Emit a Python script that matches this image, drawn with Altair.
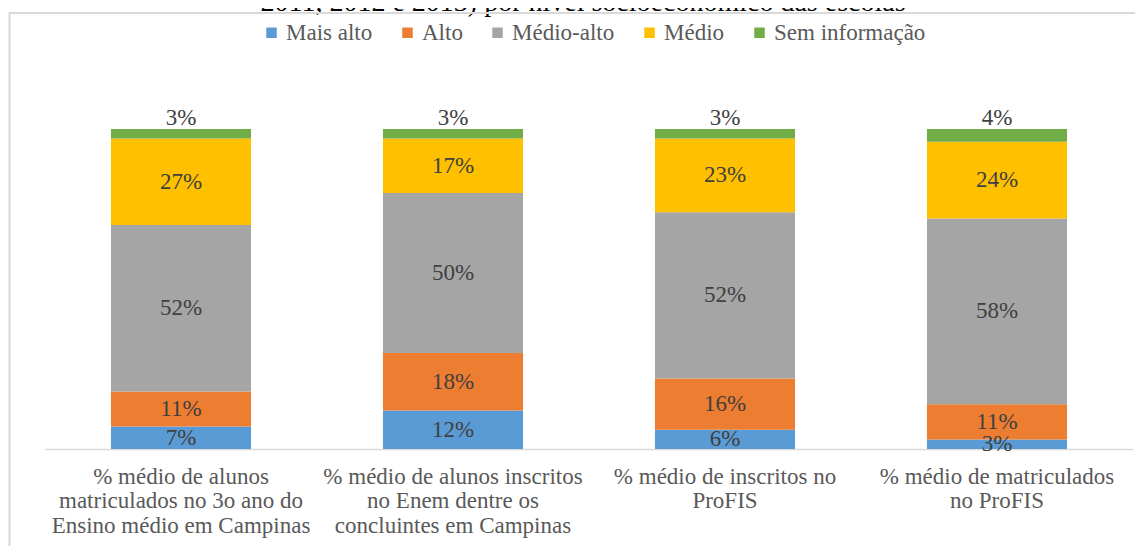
import altair as alt
import pandas as pd

# ---- data ----
categories = [
    "% médio de alunos|matriculados no 3o ano do|Ensino médio em Campinas",
    "% médio de alunos inscritos|no Enem dentre os|concluintes em Campinas",
    "% médio de inscritos no|ProFIS",
    "% médio de matriculados|no ProFIS",
]
levels = ["Mais alto", "Alto", "Médio-alto", "Médio", "Sem informação"]
colors = ["#5B9BD5", "#ED7D31", "#A5A5A5", "#FFC000", "#70AD47"]

mais_alto = [7, 12, 6, 3]
alto = [11, 18, 16, 11]
medio_alto = [52, 50, 52, 58]
medio = [27, 17, 23, 24]
sem_info = [3, 3, 3, 4]

title_text = "2011, 2012 e 2013) por nível socioeconômico das escolas"

series = [mais_alto, alto, medio_alto, medio, sem_info]
rows = []
for li, (lvl, vals) in enumerate(zip(levels, series)):
    for ci, cat in enumerate(categories):
        rows.append({"cat": cat, "level": lvl, "idx": li, "value": vals[ci]})
df = pd.DataFrame(rows)

FONT = "Times New Roman, Liberation Serif, DejaVu Serif, serif"

x_enc = alt.X(
    "cat:N",
    sort=categories,
    scale=alt.Scale(paddingInner=0.485, paddingOuter=0.2425),
    axis=alt.Axis(
        title=None,
        labelExpr="split(datum.label, '|')",
        labelAngle=0,
        domainColor="#D9D9D9",
        domainWidth=1.5,
        ticks=False,
        grid=False,
        labelFont=FONT,
        labelFontSize=23,
        labelColor="#595959",
        labelPadding=16,
        labelLineHeight=24.5,
        labelBaseline="top",
        labelLimit=400,
    ),
)

bars = alt.Chart(df).mark_bar().encode(
    x=x_enc,
    y=alt.Y("value:Q", stack="zero", scale=alt.Scale(domain=[0, 100]), axis=None),
    color=alt.Color(
        "level:N",
        sort=levels,
        scale=alt.Scale(domain=levels, range=colors),
        legend=alt.Legend(
            title=None,
            orient="none",
            legendX=215,
            legendY=-108,
            direction="horizontal",
            symbolType="square",
            symbolSize=110,
            symbolStrokeWidth=0,
            labelFont=FONT,
            labelFontSize=23,
            labelColor="#595959",
            labelOffset=3,
            columnPadding=23,
            labelLimit=300,
        ),
    ),
    order=alt.Order("idx:Q"),
)

stacked = (
    alt.Chart(df)
    .transform_stack(
        stack="value", groupby=["cat"], sort=[alt.SortField("idx")], as_=["y0", "y1"]
    )
    .transform_calculate(mid="(datum.y0 + datum.y1) / 2", lab="datum.value + '%'")
)

mid_labels = stacked.transform_filter(alt.datum.level != "Sem informação").mark_text(
    font=FONT, fontSize=23, color="#404040", baseline="middle"
).encode(x=alt.X("cat:N", sort=categories), y=alt.Y("mid:Q"), text="lab:N")

top_labels = stacked.transform_filter(alt.datum.level == "Sem informação").mark_text(
    font=FONT, fontSize=23, color="#404040", baseline="alphabetic", dy=-4
).encode(x=alt.X("cat:N", sort=categories), y=alt.Y("y1:Q"), text="lab:N")

frame_df = pd.DataFrame({"k": [0]})
border_top = alt.Chart(frame_df).mark_rule(color="#D9D9D9", strokeWidth=2).encode(
    x=alt.value(-36), x2=alt.value(1092), y=alt.value(-116)
)
border_left = alt.Chart(frame_df).mark_rule(color="#D9D9D9", strokeWidth=2).encode(
    x=alt.value(-35.5), y=alt.value(-117), y2=alt.value(420)
)
# chart title, cut off at the top edge as in the reference
title_mark = alt.Chart(frame_df).mark_text(
    text=title_text,
    font=FONT,
    fontSize=28,
    color="black",
    align="center",
    baseline="alphabetic",
).encode(x=alt.value(538), y=alt.value(-118.5))

chart = (
    alt.layer(bars, mid_labels, top_labels, title_mark, border_top, border_left)
    .properties(
        width=1088,
        height=320,
        padding={"left": 37, "top": 121, "right": 2, "bottom": 97},
        autosize=alt.AutoSizeParams(type="none"),
    )
    .configure_view(stroke=None)
)

chart.save("out.html", embed_options={"renderer": "svg", "actions": False})
